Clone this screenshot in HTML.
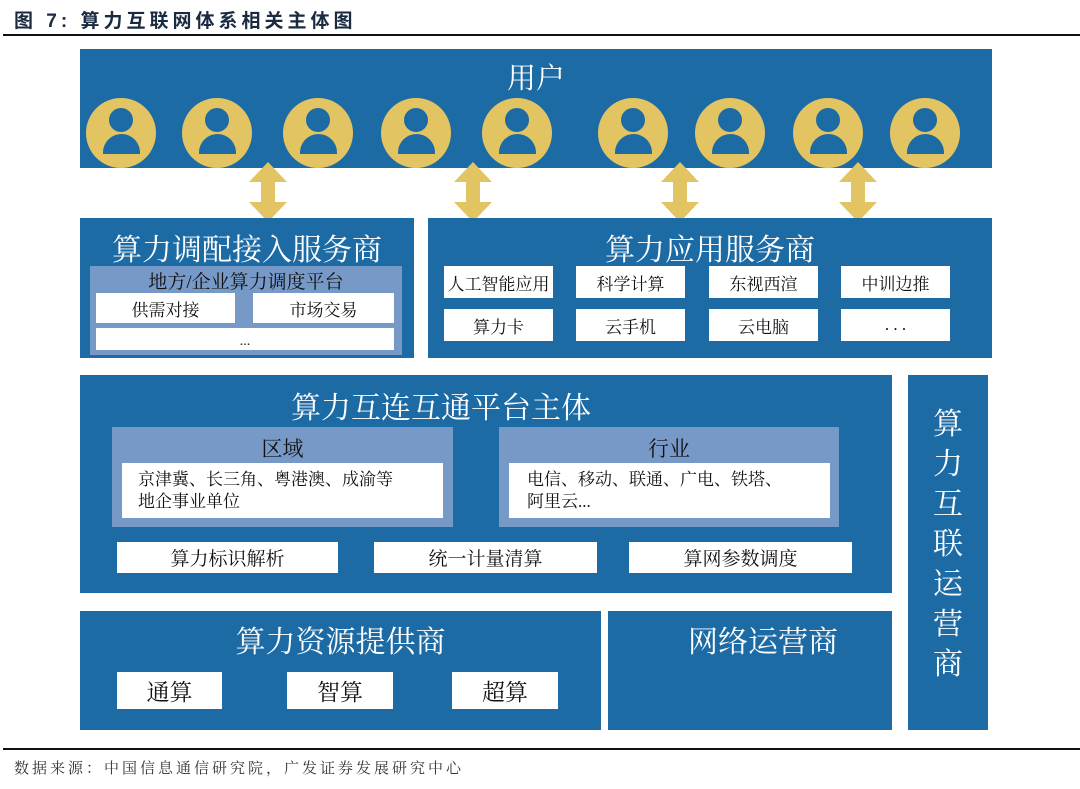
<!DOCTYPE html>
<html><head><meta charset="utf-8">
<style>
*{margin:0;padding:0;box-sizing:border-box}
body{width:1080px;height:789px;background:#fff;position:relative;overflow:hidden;font-family:"Liberation Serif","Noto Serif CJK SC",serif}
.a{position:absolute}
.b{position:absolute;background:#1c6ba4}
.l{position:absolute;background:#7799c8}
.w{position:absolute;background:#fff;color:#111;display:flex;align-items:center;justify-content:center;font-size:17px}
.t{position:absolute;color:#fff;text-align:center;font-size:29px}
.c{position:absolute;width:70px;height:70px;border-radius:50%;background:#e2c462;top:98px;overflow:hidden}
.c .h{position:absolute;left:23px;top:10px;width:24px;height:24px;border-radius:50%;background:#1c6ba4;border:0}
.c .bd{position:absolute;left:17px;top:36px;width:37px;height:20px;border-radius:19px 19px 0 0;background:#1c6ba4}
</style></head><body>
<div class="a" style="left:14px;top:6px;font-size:19px;font-weight:bold;color:#1a2a40;letter-spacing:4px;font-family:'Liberation Sans','Noto Sans CJK SC',sans-serif">图 7:&nbsp;算力互联网体系相关主体图</div>
<div class="a" style="left:3px;top:34px;width:1077px;height:1.5px;background:#111"></div>

<div class="b" style="left:80px;top:49px;width:912px;height:119px"></div>
<div class="t" style="left:80px;top:56px;width:912px">用户</div>
<div class="c" style="left:86px"><div class="h"></div><div class="bd"></div></div>
<div class="c" style="left:182px"><div class="h"></div><div class="bd"></div></div>
<div class="c" style="left:283px"><div class="h"></div><div class="bd"></div></div>
<div class="c" style="left:381px"><div class="h"></div><div class="bd"></div></div>
<div class="c" style="left:482px"><div class="h"></div><div class="bd"></div></div>
<div class="c" style="left:598px"><div class="h"></div><div class="bd"></div></div>
<div class="c" style="left:695px"><div class="h"></div><div class="bd"></div></div>
<div class="c" style="left:793px"><div class="h"></div><div class="bd"></div></div>
<div class="c" style="left:890px"><div class="h"></div><div class="bd"></div></div>

<svg class="a" style="left:0;top:0" width="1080" height="789">
<g fill="#e2c462">
<path id="ar" d="M268 162 L287 182 L275 182 L275 202 L287 202 L268 222 L249 202 L261 202 L261 182 L249 182 Z"/>
<use href="#ar" x="205"/><use href="#ar" x="412"/><use href="#ar" x="590"/>
</g></svg>

<div class="b" style="left:80px;top:218px;width:334px;height:140px"></div>
<div class="t" style="left:80px;top:225px;width:334px;font-size:30px">算力调配接入服务商</div>
<div class="l" style="left:90px;top:266px;width:312px;height:89px"></div>
<div class="a" style="left:90px;top:267px;width:312px;text-align:center;font-size:19px;color:#111">地方/企业算力调度平台</div>
<div class="w" style="left:96px;top:293px;width:139px;height:30px">供需对接</div>
<div class="w" style="left:253px;top:293px;width:141px;height:30px">市场交易</div>
<div class="w" style="left:96px;top:328px;width:298px;height:22px;align-items:flex-end;font-size:14px">...</div>

<div class="b" style="left:428px;top:218px;width:564px;height:140px"></div>
<div class="t" style="left:428px;top:225px;width:564px;font-size:30px">算力应用服务商</div>
<div class="w" style="left:444px;top:266px;width:109px;height:32px">人工智能应用</div>
<div class="w" style="left:576px;top:266px;width:109px;height:32px">科学计算</div>
<div class="w" style="left:709px;top:266px;width:109px;height:32px">东视西渲</div>
<div class="w" style="left:841px;top:266px;width:109px;height:32px">中训边推</div>
<div class="w" style="left:444px;top:309px;width:109px;height:32px">算力卡</div>
<div class="w" style="left:576px;top:309px;width:109px;height:32px">云手机</div>
<div class="w" style="left:709px;top:309px;width:109px;height:32px">云电脑</div>
<div class="w" style="left:841px;top:309px;width:109px;height:32px">. . .</div>

<div class="b" style="left:80px;top:375px;width:812px;height:218px"></div>
<div class="t" style="left:80px;top:383px;width:722px;font-size:30px">算力互连互通平台主体</div>
<div class="l" style="left:112px;top:427px;width:341px;height:100px"></div>
<div class="a" style="left:112px;top:433px;width:341px;text-align:center;font-size:21px;color:#111">区域</div>
<div class="w" style="left:122px;top:463px;width:321px;height:55px;justify-content:flex-start;padding-left:16px;line-height:22px">京津冀、长三角、粤港澳、成渝等<br>地企事业单位</div>
<div class="l" style="left:499px;top:427px;width:340px;height:100px"></div>
<div class="a" style="left:499px;top:433px;width:340px;text-align:center;font-size:21px;color:#111">行业</div>
<div class="w" style="left:509px;top:463px;width:321px;height:55px;justify-content:flex-start;padding-left:18px;line-height:22px">电信、移动、联通、广电、铁塔、<br>阿里云...</div>
<div class="w" style="left:117px;top:542px;width:221px;height:31px;font-size:19px">算力标识解析</div>
<div class="w" style="left:374px;top:542px;width:223px;height:31px;font-size:19px">统一计量清算</div>
<div class="w" style="left:629px;top:542px;width:223px;height:31px;font-size:19px">算网参数调度</div>

<div class="b" style="left:908px;top:375px;width:80px;height:355px"></div>
<div class="t" style="left:908px;top:405px;width:80px;line-height:40px;font-size:30px">算<br>力<br>互<br>联<br>运<br>营<br>商</div>

<div class="b" style="left:80px;top:611px;width:521px;height:119px"></div>
<div class="t" style="left:80px;top:617px;width:521px;font-size:30px">算力资源提供商</div>
<div class="w" style="left:117px;top:672px;width:105px;height:37px;font-size:23px">通算</div>
<div class="w" style="left:287px;top:672px;width:106px;height:37px;font-size:23px">智算</div>
<div class="w" style="left:452px;top:672px;width:106px;height:37px;font-size:23px">超算</div>
<div class="b" style="left:608px;top:611px;width:284px;height:119px"></div>
<div class="t" style="left:608px;top:617px;width:310px;font-size:30px">网络运营商</div>

<div class="a" style="left:3px;top:748px;width:1077px;height:1.5px;background:#111"></div>
<div class="a" style="left:14px;top:757px;font-size:15px;color:#333;letter-spacing:3px">数据来源：中国信息通信研究院，广发证券发展研究中心</div>
</body></html>
